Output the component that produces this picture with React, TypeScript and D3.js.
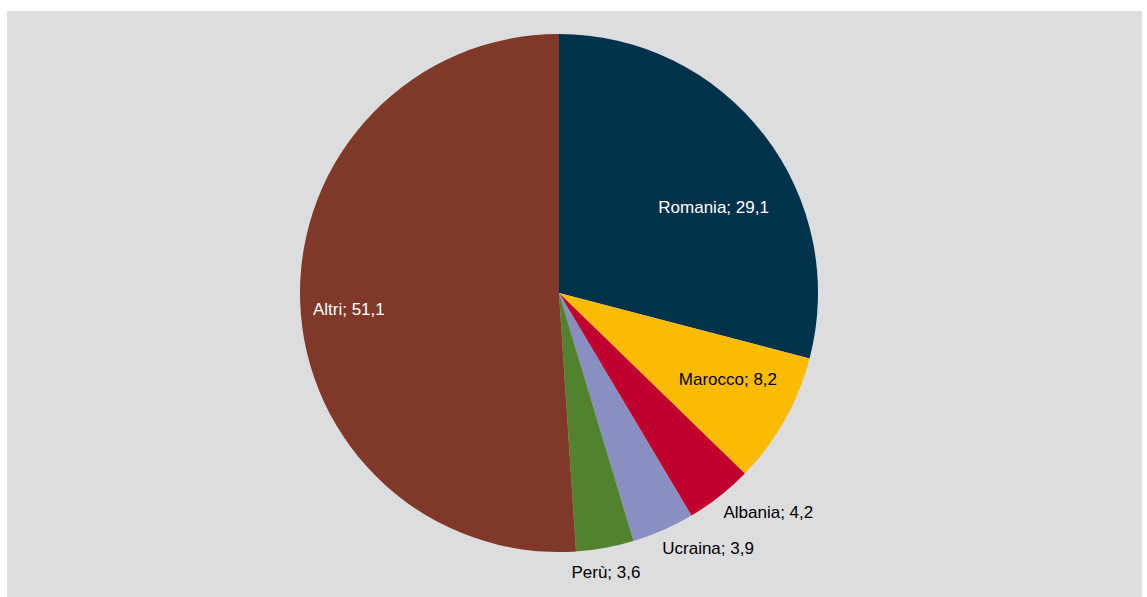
import React from "react";
import * as d3 from "d3";

const categories = ["Romania", "Marocco", "Albania", "Ucraina", "Perù", "Altri"];
const values = [29.1, 8.2, 4.2, 3.9, 3.6, 51.1];
const valueLabels = ["29,1", "8,2", "4,2", "3,9", "3,6", "51,1"];

const colors = ["#00324b", "#fbbb00", "#c1002d", "#8a8fc2", "#52822d", "#803828"];
const labelColors = ["#ffffff", "#000000", "#000000", "#000000", "#000000", "#ffffff"];
// label placement: radius as fraction of pie radius, angular nudge in degrees
const labelRadiusFactor = [0.683, 0.732, 1.17, 1.143, 1.093, 0.814];
const labelAngleNudge = [8.6, -2.4, -5.4, -6.5, 0.7, -2.6];

const W = 1147;
const H = 597;
const cx = 559;
const cy = 293;
const R = 259;

export default function App() {
  const pie = d3.pie<number>().sort(null).value((d) => d);
  const arcs = pie(values);
  const arc = d3.arc<d3.PieArcDatum<number>>().innerRadius(0).outerRadius(R);

  return (
    <svg
      width={W}
      height={H}
      style={{ position: "absolute", left: 0, top: 0 }}
      fontFamily="'Liberation Sans', Arial, sans-serif"
    >
      <rect x={7} y={11} width={1135} height={586} fill="#dcdddf" />
      <g transform={`translate(${cx},${cy})`}>
        {arcs.map((a, i) => (
          <path key={i} d={arc(a) || ""} fill={colors[i]} />
        ))}
        {arcs.map((a, i) => {
          const mid = (a.startAngle + a.endAngle) / 2 + (labelAngleNudge[i] * Math.PI) / 180;
          const r = R * labelRadiusFactor[i];
          const x = Math.sin(mid) * r;
          const y = -Math.cos(mid) * r;
          return (
            <text
              key={"t" + i}
              x={x}
              y={y}
              textAnchor="middle"
              dominantBaseline="central"
              fontSize={17}
              fill={labelColors[i]}
            >
              {`${categories[i]}; ${valueLabels[i]}`}
            </text>
          );
        })}
      </g>
    </svg>
  );
}
